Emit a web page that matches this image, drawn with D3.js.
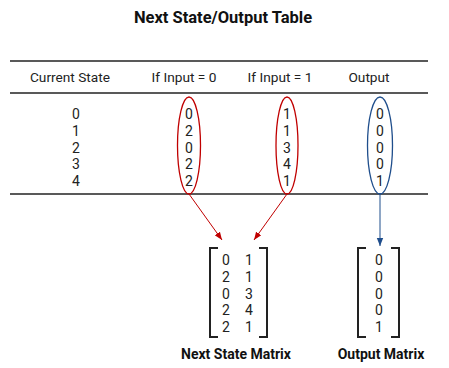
<!DOCTYPE html>
<html>
<head>
<meta charset="utf-8">
<script src="https://cdn.jsdelivr.net/npm/d3@7"></script>
<style>
html,body{margin:0;padding:0;background:#fff;}
svg{display:block;}
</style>
</head>
<body>
<script>
const title = "Next State/Output Table";
const headers = ["Current State", "If Input = 0", "If Input = 1", "Output"];
const currentState = [0, 1, 2, 3, 4];
const nextIfInput0 = [0, 2, 0, 2, 2];
const nextIfInput1 = [1, 1, 3, 4, 1];
const outputValues = [0, 0, 0, 0, 1];
const matrixLabels = ["Next State Matrix", "Output Matrix"];

const W = 449, H = 368;
const svg = d3.select("body").append("svg").attr("width", W).attr("height", H);
const font = "Roboto, 'Noto Sans', sans-serif";
const red = "#c00000", blue = "#1f4e8c";

const defs = svg.append("defs");
[["arrRed", red], ["arrBlue", blue]].forEach(([id, c]) => {
  defs.append("marker").attr("id", id).attr("viewBox", "0 0 10 10")
    .attr("refX", 10).attr("refY", 5).attr("markerWidth", 8).attr("markerHeight", 9)
    .attr("markerUnits", "userSpaceOnUse").attr("orient", "auto")
    .append("path").attr("d", "M0,1 L10,5 L0,9 Z").attr("fill", c);
});

svg.append("text").attr("x", 223).attr("y", 23).attr("text-anchor", "middle")
  .attr("font-family", font).attr("font-weight", "bold").attr("font-size", 16.5)
  .attr("fill", "#111").text(title);

// table lines
[61, 93, 194].forEach(y => {
  svg.append("line").attr("x1", 10).attr("x2", 428).attr("y1", y).attr("y2", y)
    .attr("stroke", "#222").attr("stroke-width", 1.3);
});

const headerX = [70, 184, 280, 369];
svg.selectAll("text.hdr").data(headers).join("text").attr("class", "hdr")
  .attr("x", (d, i) => headerX[i]).attr("y", 82).attr("text-anchor", "middle")
  .attr("font-family", font).attr("font-size", 13.7).attr("fill", "#222").text(d => d);

const y = d3.scalePoint().domain(currentState).range([114, 181]);
const cols = [
  {x: 76, vals: currentState},
  {x: 189, vals: nextIfInput0},
  {x: 287, vals: nextIfInput1},
  {x: 380, vals: outputValues}
];
cols.forEach(c => {
  svg.append("g").selectAll("text").data(c.vals).join("text")
    .attr("x", c.x).attr("y", (d, i) => y(currentState[i]))
    .attr("dy", "0.36em").attr("text-anchor", "middle")
    .attr("font-family", font).attr("font-size", 14).attr("fill", "#222").text(d => d);
});

// ellipses
const ell = [
  {cx: 189, rx: 11.5, c: red},
  {cx: 287, rx: 11, c: red},
  {cx: 380, rx: 12.5, c: blue}
];
ell.forEach(e => {
  svg.append("ellipse").attr("cx", e.cx).attr("cy", 145.5).attr("rx", e.rx).attr("ry", 48.5)
    .attr("fill", "none").attr("stroke", e.c).attr("stroke-width", 1.3);
});

// arrows
svg.append("line").attr("x1", 189).attr("y1", 194).attr("x2", 222).attr("y2", 240)
  .attr("stroke", red).attr("stroke-width", 1).attr("marker-end", "url(#arrRed)");
svg.append("line").attr("x1", 287).attr("y1", 194).attr("x2", 254).attr("y2", 240)
  .attr("stroke", red).attr("stroke-width", 1).attr("marker-end", "url(#arrRed)");
svg.append("line").attr("x1", 380).attr("y1", 194).attr("x2", 380).attr("y2", 246)
  .attr("stroke", blue).attr("stroke-width", 1).attr("marker-end", "url(#arrBlue)");

// brackets
function bracket(x0, x1, y0, y1) {
  const s = 8;
  svg.append("path").attr("d", `M${x0 + s},${y0} H${x0} V${y1} H${x0 + s}`)
    .attr("fill", "none").attr("stroke", "#222").attr("stroke-width", 2);
  svg.append("path").attr("d", `M${x1 - s},${y0} H${x1} V${y1} H${x1 - s}`)
    .attr("fill", "none").attr("stroke", "#222").attr("stroke-width", 2);
}
bracket(210, 267, 248, 337);
bracket(358, 399, 248, 337);

const ym = d3.scalePoint().domain(currentState).range([260, 327]);
[{x: 226, vals: nextIfInput0}, {x: 249, vals: nextIfInput1}, {x: 379, vals: outputValues}].forEach(c => {
  svg.append("g").selectAll("text").data(c.vals).join("text")
    .attr("x", c.x).attr("y", (d, i) => ym(currentState[i]))
    .attr("dy", "0.36em").attr("text-anchor", "middle")
    .attr("font-family", font).attr("font-size", 14).attr("fill", "#222").text(d => d);
});

const labX = [236, 381];
svg.selectAll("text.lab").data(matrixLabels).join("text").attr("class", "lab")
  .attr("x", (d, i) => labX[i]).attr("y", 359).attr("text-anchor", "middle")
  .attr("font-family", font).attr("font-weight", "bold").attr("font-size", 14)
  .attr("fill", "#111").text(d => d);
</script>
</body>
</html>
